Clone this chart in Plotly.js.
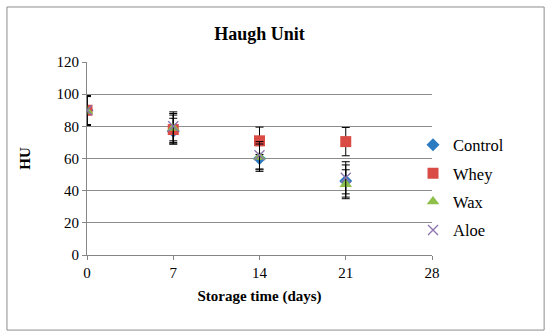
<!DOCTYPE html>
<html><head><meta charset="utf-8">
<script src="https://cdn.plot.ly/plotly-3.0.1.min.js"></script>
<style>html,body{margin:0;padding:0;background:#fff}#c{width:550px;height:335px}</style>
</head><body><div id="c"></div>
<script>
const days = [0, 7, 14, 21];
const seriesNames = ["Control", "Whey", "Wax", "Aloe"];
const control = [90, 77, 60, 46];
const whey = [90, 78, 71, 70.5];
const wax = [89.5, 79, 61, 44];
const aloe = [90, 80, 62, 48];
const controlErr = [9, 8, 8, 10];
const wheyErr = [9, 9, 8.5, 8.8];
const waxErr = [9, 9, 8, 9];
const aloeErr = [9, 9, 8.5, 10];
const xTicks = [0, 7, 14, 21, 28];
const yTicks = [0, 20, 40, 60, 80, 100, 120];

const colors = ["#2D7CC2", "#DA4B45", "#8DBF4A", "#8A72AE"];
const symbols = ["diamond", "square", "triangle-up", "x-thin"];
const sizes = [10, 11, 11, 10];
const vals = [control, whey, wax, aloe];
const errs = [controlErr, wheyErr, waxErr, aloeErr];

const traces = seriesNames.map((n, i) => ({
  type: "scatter", mode: "markers", name: n, x: days, y: vals[i], legendgroup: "g" + i,
  marker: {symbol: symbols[i], size: sizes[i], color: colors[i],
           line: {color: colors[i], width: symbols[i] === "x-thin" ? 1.3 : 0}},
  error_y: {type: "data", array: errs[i], visible: true, color: "#000", thickness: 1, width: 4}
}));

const font = "'Liberation Serif', 'DejaVu Serif', serif";
const layout = {
  width: 550, height: 335,
  margin: {l: 87, r: 118, t: 62, b: 80},
  paper_bgcolor: "#fff", plot_bgcolor: "#fff",
  font: {family: font, size: 15, color: "#000"},
  title: {text: "<b>Haugh Unit</b>", x: 0.5, xref: "paper", y: 0.9, yanchor: "middle", font: {family: font, size: 18, color: "#000"}},
  xaxis: {range: [0, 28], tickvals: xTicks, ticktext: xTicks.map(String), showgrid: false, zeroline: false,
          showline: true, linecolor: "#868686", linewidth: 1, ticks: "outside", ticklen: 4, tickcolor: "#868686",
          tickfont: {family: font, size: 15}, title: {text: "<b>Storage time (days)</b>", font: {family: font, size: 15}, standoff: 10}},
  yaxis: {range: [0, 120], tickvals: yTicks, ticktext: yTicks.map(String), showgrid: true, gridcolor: "#8c8c8c",
          zeroline: false, showline: true, linecolor: "#868686", linewidth: 1, ticks: "outside", ticklen: 4,
          tickcolor: "#868686", tickfont: {family: font, size: 15}, title: {text: "<b>HU</b>", font: {family: font, size: 15}, standoff: 22}},
  legend: {x: 0.945, xanchor: "left", y: 0.35, yanchor: "middle", font: {family: font, size: 16.5},
           itemsizing: "trace", itemwidth: 30, tracegroupgap: 4, bgcolor: "rgba(0,0,0,0)"},
  showlegend: true,
  shapes: [{type: "rect", xref: "paper", yref: "paper", x0: -0.232, x1: 1.325, y0: -0.389, y1: 1.285,
            line: {color: "#8c8c8c", width: 1}, fillcolor: "rgba(0,0,0,0)"}]
};
Plotly.newPlot("c", traces, layout, {displayModeBar: false, staticPlot: true});
</script></body></html>
